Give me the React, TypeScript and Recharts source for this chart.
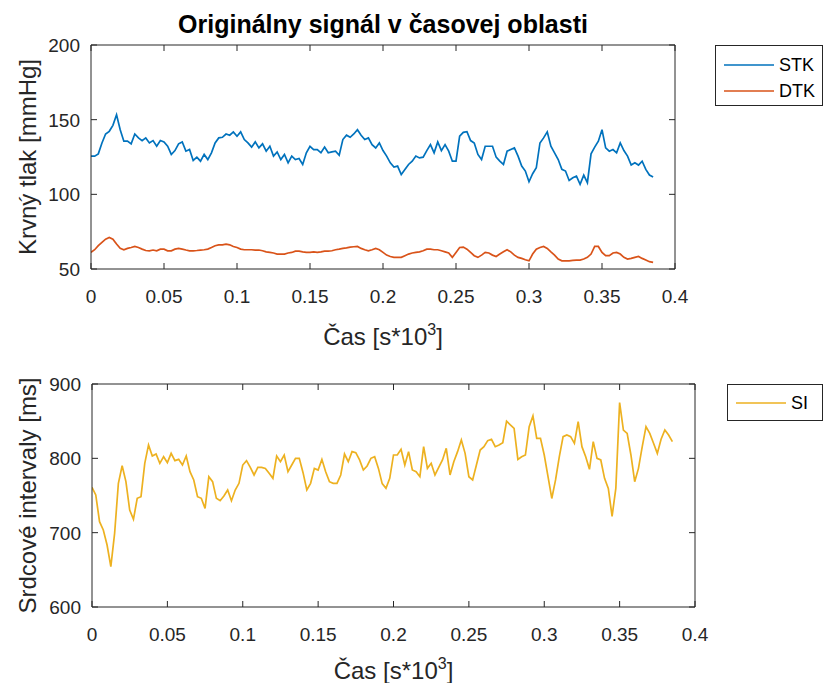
import { LineChart, Line, XAxis, YAxis } from "recharts";

// time axis in s*10^3
const TIME = [
  0, 0.0025, 0.005, 0.0075, 0.01, 0.0125, 0.015, 0.0175, 0.02, 0.0225,
  0.025, 0.0275, 0.03, 0.0325, 0.035, 0.0375, 0.04, 0.0425, 0.045, 0.0475,
  0.05, 0.0525, 0.055, 0.0575, 0.06, 0.0625, 0.065, 0.0675, 0.07, 0.0725,
  0.075, 0.0775, 0.08, 0.0825, 0.085, 0.0875, 0.09, 0.0925, 0.095, 0.0975,
  0.1, 0.1025, 0.105, 0.1075, 0.11, 0.1125, 0.115, 0.1175, 0.12, 0.1225,
  0.125, 0.1275, 0.13, 0.1325, 0.135, 0.1375, 0.14, 0.1425, 0.145, 0.1475,
  0.15, 0.1525, 0.155, 0.1575, 0.16, 0.1625, 0.165, 0.1675, 0.17, 0.1725,
  0.175, 0.1775, 0.18, 0.1825, 0.185, 0.1875, 0.19, 0.1925, 0.195, 0.1975,
  0.2, 0.2025, 0.205, 0.2075, 0.21, 0.2125, 0.215, 0.2175, 0.22, 0.2225,
  0.225, 0.2275, 0.23, 0.2325, 0.235, 0.2375, 0.24, 0.2425, 0.245, 0.2475,
  0.25, 0.2525, 0.255, 0.2575, 0.26, 0.2625, 0.265, 0.2675, 0.27, 0.2725,
  0.275, 0.2775, 0.28, 0.2825, 0.285, 0.2875, 0.29, 0.2925, 0.295, 0.2975,
  0.3, 0.3025, 0.305, 0.3075, 0.31, 0.3125, 0.315, 0.3175, 0.32, 0.3225,
  0.325, 0.3275, 0.33, 0.3325, 0.335, 0.3375, 0.34, 0.3425, 0.345, 0.3475,
  0.35, 0.3525, 0.355, 0.3575, 0.36, 0.3625, 0.365, 0.3675, 0.37, 0.3725,
  0.375, 0.3775, 0.38, 0.3825, 0.385,
];

// systolic pressure [mmHg]
const STK = [
  125.6, 125.6, 127.1, 134.4, 140.4, 142.2, 146.2, 153.3, 143.3, 135.6,
  135.6, 133.8, 140.4, 137.8, 136, 137.8, 134.4, 136, 132.2, 136,
  135.1, 132.2, 126.7, 129.3, 133.8, 135.1, 128.9, 130, 122.7, 124.9,
  122.2, 126.7, 123.3, 127.8, 134.4, 137.8, 138.2, 140.4, 139.6, 141.8,
  138.9, 141.8, 136.7, 134.4, 131.6, 135.1, 131.1, 133.8, 128.9, 132.2,
  125.6, 128.4, 123.3, 126.7, 121.1, 125.6, 123.3, 124, 120, 127.8,
  132.2, 130, 130, 127.8, 131.6, 127.8, 128.4, 128.9, 126.2, 136.7,
  139.6, 138.2, 140.4, 143.3, 139.6, 136.7, 137.8, 133.3, 131.1, 134.4,
  129.3, 125.6, 121.1, 118.2, 118.9, 113.3, 116.7, 120, 122.2, 125.6,
  124.4, 124.9, 129.3, 133.3, 127.8, 135.1, 129.3, 133.3, 128.9, 122.2,
  122.2, 138.9, 141.5, 142, 136, 134.4, 126.7, 123.3, 132.2, 132.2,
  132.2, 124.9, 122.2, 120, 128.9, 130, 131.1, 125.6, 118.9, 115.6,
  108.4, 113.8, 117.8, 134.4, 137.8, 141.8, 132.2, 127.8, 123.3, 116.7,
  115.6, 109.3, 111.1, 112.2, 106.7, 112.9, 107.8, 127.1, 131.6, 135.6,
  143.3, 131.1, 128.9, 130, 127.8, 134.4, 129.3, 125.6, 119.6, 121.1,
  119.6, 122.2, 116.7, 112.9, 111.6,
];

// diastolic pressure [mmHg]
const DTK = [
  61.1, 62.9, 65.6, 67.8, 70, 71.1, 70, 66.7, 63.8, 62.9,
  63.8, 64.4, 65.1, 64.4, 63.3, 62.4, 62.2, 62.7, 62.2, 63.3,
  63.3, 62.2, 62.2, 63.3, 63.8, 63.3, 62.7, 62.2, 62.2, 62.4,
  62.7, 62.9, 63.3, 64.4, 65.6, 66.2, 66.2, 66.7, 66.2, 65.1,
  64.4, 63.3, 62.9, 62.9, 62.9, 62.7, 62.7, 62.2, 61.5, 61.1,
  60.7, 60, 60, 60, 60.7, 61.1, 62, 62, 61.5, 61.1,
  61.1, 61.5, 61.1, 61.5, 62, 62, 62.2, 62.9, 63.3, 63.8,
  64.2, 64.7, 64.9, 65.1, 63.8, 62.9, 62.2, 62.9, 63.8, 62.9,
  61.1, 59.3, 58.4, 57.8, 57.8, 57.8, 58.9, 60, 60.7, 61.1,
  61.5, 62.2, 63.3, 63.3, 62.9, 62.9, 62.2, 61.5, 60.7, 57.8,
  61.1, 64.4, 64.7, 63.3, 61.1, 58.9, 57.8, 59.3, 61.1, 60.7,
  59.3, 58.4, 60, 61.5, 62.9, 61.5, 59.3, 57.8, 57.1, 56.2,
  55.5, 60, 63.3, 64.4, 65.1, 63.8, 61.5, 59.3, 56.7, 55.5,
  55.5, 55.5, 55.8, 56, 56, 56.7, 57.8, 60, 65.1, 65.1,
  61.1, 58.9, 58.9, 60.7, 61.1, 60, 57.8, 56.7, 57.1, 57.8,
  58.4, 57.1, 56, 54.9, 54.4,
];

// heart intervals [ms]
const SI = [
  761, 750.7, 714.8, 703.6, 683.4, 654.3, 699.1, 766.4, 790, 768.6,
  730.5, 718, 746.2, 748.4, 793.3, 818, 803.2, 805.8, 793.3, 802.2,
  794.2, 806.7, 796.9, 798.6, 791, 803.2, 782, 770.9, 748.4, 746.2,
  732.7, 775.3, 768.6, 746.2, 743, 749.3, 757.4, 743, 757.4, 766.4,
  791, 796.9, 787.9, 777.6, 787.9, 787.9, 786.5, 779.8, 773.1, 803.2,
  795.5, 804.5, 782, 791, 800, 800, 780.7, 757.4, 766.4, 786.5,
  784.3, 798.6, 782, 768.6, 766.4, 766.4, 777.6, 805.8, 795.5, 809,
  807.6, 797.8, 784.3, 789.7, 800, 802.2, 786.5, 766, 759.6, 773.1,
  804.5, 804.5, 812.1, 791, 809, 784.3, 782, 775.3, 815.7, 786.5,
  793.3, 777.6, 787.9, 797.8, 813.5, 777.6, 795.5, 809, 824.7, 806.7,
  775.3, 770.9, 791, 811.2, 815.7, 823.8, 825.6, 815.7, 817.9, 821.1,
  850, 845, 840.4, 798.6, 802.2, 804.5, 842.6, 857, 826.9, 826.9,
  804.5, 775.3, 746, 770.9, 802.2, 829.1, 831.4, 829.1, 820.2, 849.3,
  815.7, 802.2, 785.2, 822.4, 800, 797.8, 773.1, 759.6, 722, 760,
  875, 838.1, 833.6, 804.5, 768.6, 786.5, 815.7, 842.6, 833.6, 820.2,
  806.7, 825.6, 838.1, 831.4, 822.4,
];

const X_TICKS = [0, 0.05, 0.1, 0.15, 0.2, 0.25, 0.3, 0.35, 0.4];
const BP_TICKS = [50, 100, 150, 200];
const SI_TICKS = [600, 700, 800, 900];

const rows = TIME.map((t, i) => ({ t, stk: STK[i], dtk: DTK[i], si: SI[i] }));

const AXIS = "#262626";
const FONT = "'Liberation Sans', Arial, Helvetica, sans-serif";
const BLUE = "#0072BD";
const ORANGE = "#D95319";
const YELLOW = "#EDB120";
const TICK_LEN = 6;
const TICK_FONT = 19;
const LABEL_FONT = 24;

const fmtX = (v: number) => (v === 0 ? "0" : String(v));

function BottomTick({ x, y, payload }: any) {
  return (
    <g>
      <line x1={x} y1={y} x2={x} y2={y - TICK_LEN} stroke={AXIS} />
      <text x={x} y={y + 27} dy="0.36em" textAnchor="middle" fontSize={TICK_FONT} fill={AXIS} fontFamily={FONT}>
        {fmtX(payload.value)}
      </text>
    </g>
  );
}

function TopTick({ x, y }: any) {
  return <line x1={x} y1={y} x2={x} y2={y + TICK_LEN} stroke={AXIS} />;
}

function LeftTick({ x, y, payload }: any) {
  return (
    <g>
      <line x1={x} y1={y} x2={x + TICK_LEN} y2={y} stroke={AXIS} />
      <text x={x - 11} y={y} dy="0.36em" textAnchor="end" fontSize={TICK_FONT} fill={AXIS} fontFamily={FONT}>
        {payload.value}
      </text>
    </g>
  );
}

function RightTick({ x, y }: any) {
  return <line x1={x} y1={y} x2={x - TICK_LEN} y2={y} stroke={AXIS} />;
}

function XTitle({ viewBox, dy }: any) {
  const { x, y, width } = viewBox;
  return (
    <text x={x + width / 2} y={y + dy} textAnchor="middle" fontSize={LABEL_FONT} fill={AXIS} fontFamily={FONT}>
      <tspan>Čas [s*10</tspan>
      <tspan dy={-10} fontSize={16}>3</tspan>
      <tspan dy={10}>]</tspan>
    </text>
  );
}

function YTitle({ viewBox, text }: any) {
  const { y, height } = viewBox;
  const cx = 27;
  const cy = y + height / 2;
  return (
    <text
      x={cx}
      y={cy}
      dy="0.36em"
      textAnchor="middle"
      fontSize={LABEL_FONT}
      fill={AXIS}
      fontFamily={FONT}
      transform={`rotate(-90, ${cx}, ${cy})`}
    >
      {text}
    </text>
  );
}

function MainTitle({ viewBox }: any) {
  const { x, width } = viewBox;
  return (
    <text x={x + width / 2} y={33} textAnchor="middle" fontSize={25} fontWeight="bold" fill="#000" fontFamily={FONT}>
      Originálny signál v časovej oblasti
    </text>
  );
}

function LegendBox({ items, style }: any) {
  return (
    <div
      style={{
        position: "absolute",
        background: "#fff",
        border: `1px solid ${AXIS}`,
        boxSizing: "border-box",
        fontFamily: FONT,
        fontSize: 18,
        color: "#000",
        padding: "6px 0",
        ...style,
      }}
    >
      {items.map((it: any) => (
        <div key={it.name} style={{ display: "flex", alignItems: "center", height: 26 }}>
          <svg width={63} height={10} style={{ display: "block" }}>
            <line x1={8} y1={5} x2={58} y2={5} stroke={it.color} strokeWidth={1.5} />
          </svg>
          <span>{it.name}</span>
        </div>
      ))}
    </div>
  );
}

export default function App() {
  return (
    <div style={{ position: "absolute", left: 0, top: 0, width: 823, height: 683, background: "#fff", overflow: "hidden" }}>
      {/* upper: blood pressure */}
      <div style={{ position: "absolute", left: 0, top: 0 }}>
        <LineChart width={823} height={350} data={rows} margin={{ top: 35, right: 138, bottom: 0, left: 0 }}>
          <XAxis
            xAxisId="b"
            dataKey="t"
            type="number"
            domain={[0, 0.4]}
            ticks={X_TICKS}
            interval={0}
            allowDataOverflow
            height={81}
            tickSize={0}
            tickMargin={0}
            tickLine={false}
            axisLine={{ stroke: AXIS }}
            tick={<BottomTick />}
            label={(p: any) => <XTitle {...p} dy={76} />}
          />
          <XAxis
            xAxisId="top"
            orientation="top"
            dataKey="t"
            type="number"
            domain={[0, 0.4]}
            ticks={X_TICKS}
            interval={0}
            allowDataOverflow
            height={10}
            tickSize={0}
            tickMargin={0}
            tickLine={false}
            axisLine={{ stroke: AXIS }}
            tick={<TopTick />}
            label={(p: any) => <MainTitle {...p} />}
          />
          <YAxis
            yAxisId="l"
            type="number"
            domain={[50, 200]}
            ticks={BP_TICKS}
            interval={0}
            allowDataOverflow
            width={91}
            tickSize={0}
            tickMargin={0}
            tickLine={false}
            axisLine={{ stroke: AXIS }}
            tick={<LeftTick />}
            label={(p: any) => <YTitle {...p} text="Krvný tlak [mmHg]" />}
          />
          <YAxis
            yAxisId="r"
            orientation="right"
            type="number"
            domain={[50, 200]}
            ticks={BP_TICKS}
            interval={0}
            allowDataOverflow
            width={10}
            tickSize={0}
            tickMargin={0}
            tickLine={false}
            axisLine={{ stroke: AXIS }}
            tick={<RightTick />}
          />
          <Line xAxisId="b" yAxisId="l" type="linear" dataKey="stk" name="STK" stroke={BLUE} strokeWidth={1.7} dot={false} isAnimationActive={false} />
          <Line xAxisId="b" yAxisId="l" type="linear" dataKey="dtk" name="DTK" stroke={ORANGE} strokeWidth={1.7} dot={false} isAnimationActive={false} />
        </LineChart>
      </div>

      {/* lower: heart intervals */}
      <div style={{ position: "absolute", left: 0, top: 340 }}>
        <LineChart width={823} height={343} data={rows} margin={{ top: 34, right: 118, bottom: 0, left: 0 }}>
          <XAxis
            xAxisId="b"
            dataKey="t"
            type="number"
            domain={[0, 0.4]}
            ticks={X_TICKS}
            interval={0}
            allowDataOverflow
            height={76}
            tickSize={0}
            tickMargin={0}
            tickLine={false}
            axisLine={{ stroke: AXIS }}
            tick={<BottomTick />}
            label={(p: any) => <XTitle {...p} dy={72} />}
          />
          <XAxis
            xAxisId="top"
            orientation="top"
            dataKey="t"
            type="number"
            domain={[0, 0.4]}
            ticks={X_TICKS}
            interval={0}
            allowDataOverflow
            height={10}
            tickSize={0}
            tickMargin={0}
            tickLine={false}
            axisLine={{ stroke: AXIS }}
            tick={<TopTick />}
          />
          <YAxis
            yAxisId="l"
            type="number"
            domain={[600, 900]}
            ticks={SI_TICKS}
            interval={0}
            allowDataOverflow
            width={92}
            tickSize={0}
            tickMargin={0}
            tickLine={false}
            axisLine={{ stroke: AXIS }}
            tick={<LeftTick />}
            label={(p: any) => <YTitle {...p} text="Srdcové intervaly [ms]" />}
          />
          <YAxis
            yAxisId="r"
            orientation="right"
            type="number"
            domain={[600, 900]}
            ticks={SI_TICKS}
            interval={0}
            allowDataOverflow
            width={10}
            tickSize={0}
            tickMargin={0}
            tickLine={false}
            axisLine={{ stroke: AXIS }}
            tick={<RightTick />}
          />
          <Line xAxisId="b" yAxisId="l" type="linear" dataKey="si" name="SI" stroke={YELLOW} strokeWidth={1.7} dot={false} isAnimationActive={false} />
        </LineChart>
      </div>

      <LegendBox
        style={{ left: 715, top: 45, width: 108, height: 61 }}
        items={[
          { name: "STK", color: BLUE },
          { name: "DTK", color: ORANGE },
        ]}
      />
      <LegendBox
        style={{ left: 727, top: 384, width: 96, height: 37, padding: "5px 0" }}
        items={[{ name: "SI", color: YELLOW }]}
      />
    </div>
  );
}
